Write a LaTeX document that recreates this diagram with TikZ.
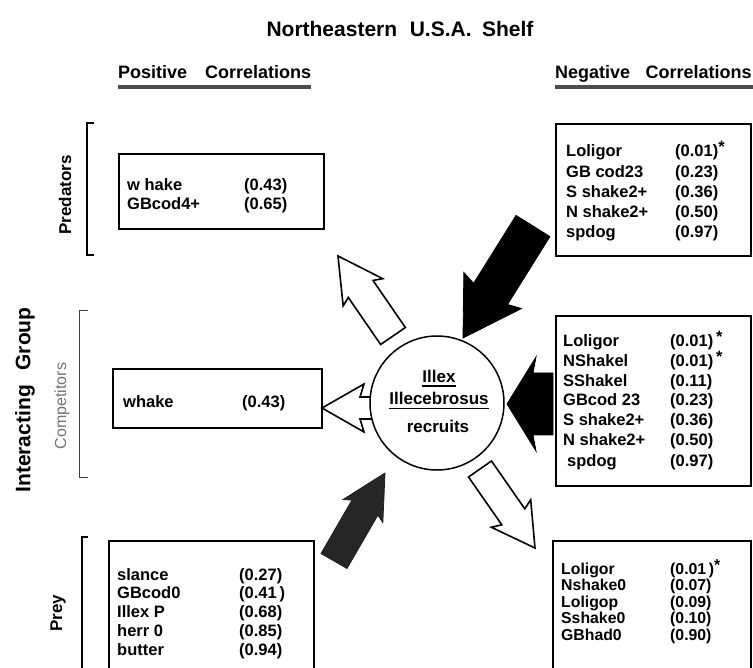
\documentclass[tikz,border=0pt]{standalone}
\usepackage{fontspec}
\setmainfont{Liberation Sans}
\usetikzlibrary{calc}

% block arrow: style, tail, tip, shaft half-width, head half-width,
% distance tip->shaft notch, distance tip->barbs
\newcommand\blockarrow[7]{%
  \coordinate (hb) at ($(#3)!#6!(#2)$);
  \coordinate (bb) at ($(#3)!#7!(#2)$);
  \path[#1] ($(#2)!#4!90:(#3)$) -- ($(hb)!#4!90:(#3)$) -- ($(bb)!#5!90:(#3)$)
    -- (#3) -- ($(bb)!#5!-90:(#3)$) -- ($(hb)!#4!-90:(#3)$)
    -- ($(#2)!#4!-90:(#3)$) -- cycle;
}
% one row of a correlation list: name, x of label, x of value, baseline, label, value
\newcommand\entry[6]{%
  \node[txt] (#1) at (#2,#4) {#5};
  \node[txt] (#1v) at (#3,#4) {#6};
}
\newcommand\sigmark{\raisebox{4pt}{*}}

\begin{document}
\begin{tikzpicture}[x=1pt,y=-1pt,
  txt/.style={anchor=base west, inner sep=0pt, font=\bfseries\fontsize{16.5}{18}\selectfont},
  box/.style={draw, line width=1.8pt, inner sep=0pt, anchor=north west},
  openarr/.style={draw, line width=1.6pt, fill=white, line join=miter},
  solidarr/.style={draw=black, fill=black, line width=0.8pt, line join=miter},
  greyarr/.style={draw=black!88, fill=black!85, line width=0.8pt, line join=miter},
  bracket/.style={line width=2.4pt},
  header/.style={anchor=base west, inner sep=0pt, font=\bfseries\fontsize{18}{22}\selectfont},
  side/.style={rotate=90, inner sep=0pt, font=\bfseries\fontsize{17}{20}\selectfont},
  rule/.style={line width=3.5pt, black!70}]
\useasboundingbox (0,0) rectangle (753,668);
\clip (0,0) rectangle (753,668);

% title and column headers
\node[inner sep=0pt, anchor=base, font=\bfseries\fontsize{21}{24}\selectfont] (title) at (400,37)
  {Northeastern\hspace{0.6em}U.S.A.\hspace{0.5em}Shelf};
\node[header] (poshead) at (118,79) {Positive\hspace{1em}Correlations};
\node[header] (neghead) at (555,79) {Negative\hspace{0.85em}Correlations};
\draw[rule] (poshead.base west) ++(0,8) coordinate (pu1) -- (poshead.base east |- pu1);
\draw[rule] (neghead.base west) ++(0,8) coordinate (nu1) -- (753,87);

% side labels and brackets
\node[rotate=90, inner sep=0pt, font=\bfseries\fontsize{21}{24}\selectfont] (group) at (25,400)
  {Interacting\hspace{0.7em}Group};
\node[side] (predl) at (65,195) {Predators};
\node[rotate=90, inner sep=0pt, text=black!55, font=\fontsize{16}{18}\selectfont] (compl) at (62,406) {Competitors};
\node[side] (preyl) at (58,613) {Prey};
\draw[bracket] (94,123) -- (87,123) -- (87,255) -- (94,255);
\draw[line width=0.9pt, black!75] (88,310) -- (79,310) -- (79,477) -- (88,477);
\draw[bracket] (88,537) -- (82,537) -- (82,680);

% predators (positive)
\node[box, minimum width=205pt, minimum height=75pt] (predbox) at (118,153) {};
\entry{p1}{127}{244}{191}{w hake}{(0.43)}
\entry{p2}{127}{244}{210}{GBcod4+}{(0.65)}

% competitors (positive)
\node[box, minimum width=209pt, minimum height=59pt] (compbox) at (112,368) {};
\entry{c1}{123}{242}{408}{whake}{(0.43)}

% prey (positive)
\node[box, minimum width=205pt, minimum height=150pt] (preybox) at (108,540) {};
\entry{y1}{117}{239}{580}{slance}{(0.27)}
\entry{y2}{117}{239}{598}{GBcod0}{(0.41\,)}
\entry{y3}{117}{239}{617}{Illex P}{(0.68)}
\entry{y4}{117}{239}{636}{herr 0}{(0.85)}
\entry{y5}{117}{239}{655}{butter}{(0.94)}

% predators (negative)
\node[box, minimum width=195pt, minimum height=132pt] (tpbox) at (555,123) {};
\entry{t1}{566}{675}{157}{Loligor}{(0.01)\sigmark}
\entry{t2}{566}{675}{178}{GB cod23}{(0.23)}
\entry{t3}{566}{675}{198}{S shake2+}{(0.36)}
\entry{t4}{566}{675}{218}{N shake2+}{(0.50)}
\entry{t5}{566}{675}{238}{spdog}{(0.97)}

% competitors (negative)
\node[box, minimum width=195pt, minimum height=170pt] (mdbox) at (555,315) {};
\entry{m1}{563}{670}{347}{Loligor}{(0.01)\,\sigmark}
\entry{m2}{563}{670}{367}{NShakel}{(0.01)\,\sigmark}
\entry{m3}{563}{670}{387}{SShakel}{(0.11)}
\entry{m4}{563}{670}{406}{GBcod 23}{(0.23)}
\entry{m5}{563}{670}{426}{S shake2+}{(0.36)}
\entry{m6}{563}{670}{446}{N shake2+}{(0.50)}
\entry{m7}{567}{670}{467}{spdog}{(0.97)}

% prey (negative), rows set closer together
\node[box, minimum width=198pt, minimum height=150pt] (btbox) at (552,540) {};
\begin{scope}[txt/.append style={font=\bfseries\fontsize{15.8}{17}\selectfont}]
\entry{b1}{561}{670}{574}{Loligor}{(0.01\,)\sigmark}
\entry{b2}{561}{670}{590.5}{Nshake0}{(0.07)}
\entry{b3}{561}{670}{607}{Loligop}{(0.09)}
\entry{b4}{561}{670}{623.5}{Sshake0}{(0.10)}
\entry{b5}{561}{670}{640}{GBhad0}{(0.90)}
\end{scope}

% arrow end points
\coordinate (aT) at (393,336); \coordinate (aP) at (338,256);
\coordinate (bT) at (533,226); \coordinate (bP) at (463,338);
\coordinate (cT) at (553,404); \coordinate (cP) at (507,404);
\coordinate (dT) at (390,408); \coordinate (dP) at (322,408);
\coordinate (eT) at (480,469); \coordinate (eP) at (535,548);
\coordinate (fT) at (334,561); \coordinate (fP) at (385,473);

\blockarrow{openarr}{aT}{aP}{15pt}{24pt}{40pt}{44pt}
\blockarrow{solidarr}{bT}{bP}{20pt}{34pt}{52pt}{56pt}
\blockarrow{solidarr}{cT}{cP}{31pt}{47pt}{26pt}{29pt}
\blockarrow{openarr}{dT}{dP}{11pt}{24pt}{38pt}{42pt}
\blockarrow{openarr}{eT}{eP}{14pt}{24pt}{38pt}{42pt}
\blockarrow{greyarr}{fT}{fP}{15pt}{23pt}{40pt}{44pt}

% central species
\node[circle, draw, line width=1.5pt, fill=white, minimum size=134pt, inner sep=0pt] (illex) at (437,403) {};
\node[inner sep=0pt, anchor=base, font=\bfseries\fontsize{17}{20}\selectfont] (n1) at (439,383) {Illex};
\node[inner sep=0pt, anchor=base, font=\bfseries\fontsize{17}{20}\selectfont] (n2) at (439,405) {Illecebrosus};
\node[inner sep=0pt, anchor=base, font=\bfseries\fontsize{17}{20}\selectfont] (n3) at (438,432) {recruits};
\draw[line width=1.4pt] ($(n1.base west)+(0,3)$) -- ($(n1.base east)+(0,3)$);
\draw[line width=1.4pt] ($(n2.base west)+(0,3.5)$) -- ($(n2.base east)+(0,3.5)$);
\end{tikzpicture}
\end{document}
